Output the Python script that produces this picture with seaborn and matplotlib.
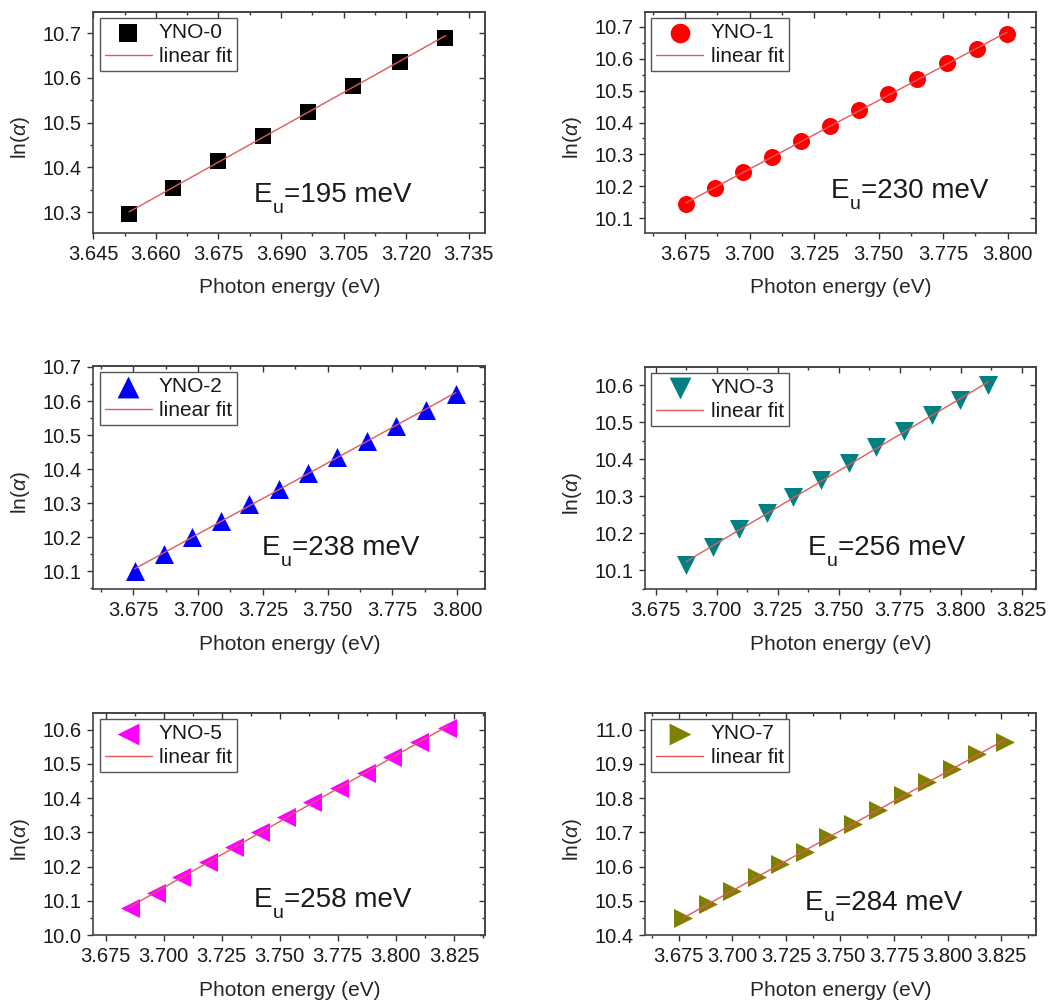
import matplotlib
matplotlib.use("Agg")
import matplotlib.pyplot as plt
import seaborn as sns
from matplotlib.ticker import MultipleLocator, AutoMinorLocator

# photon energy (eV) and ln(alpha)
yno0_E = [3.6536, 3.6641, 3.6749, 3.6857, 3.6965, 3.7073, 3.7184, 3.7294]
yno0_ln = [10.296, 10.354, 10.414, 10.470, 10.524, 10.582, 10.636, 10.690]

yno1_E = [3.6754, 3.6866, 3.6976, 3.7088, 3.7198, 3.7311, 3.7424, 3.7536,
          3.7649, 3.7765, 3.7881, 3.7997]
yno1_ln = [10.145, 10.194, 10.244, 10.293, 10.342, 10.390, 10.439, 10.488,
           10.536, 10.585, 10.630, 10.677]

yno2_E = [3.6756, 3.6868, 3.6978, 3.7087, 3.7197, 3.7311, 3.7424, 3.7536,
          3.7652, 3.7765, 3.7881, 3.7996]
yno2_ln = [10.100, 10.152, 10.200, 10.249, 10.298, 10.343, 10.389, 10.435,
           10.482, 10.528, 10.575, 10.620]

yno3_E = [3.6873, 3.6984, 3.7093, 3.7205, 3.7314, 3.7426, 3.7540, 3.7652,
          3.7768, 3.7881, 3.7997, 3.8113]
yno3_ln = [10.115, 10.163, 10.211, 10.256, 10.299, 10.344, 10.389, 10.432,
           10.477, 10.519, 10.560, 10.600]

yno5_E = [3.6854, 3.6969, 3.7076, 3.7191, 3.7305, 3.7413, 3.7527, 3.7641,
          3.7756, 3.7871, 3.7985, 3.8100, 3.8221]
yno5_ln = [10.078, 10.122, 10.170, 10.214, 10.258, 10.301, 10.345, 10.389,
           10.431, 10.473, 10.520, 10.564, 10.606]

yno7_E = [3.6772, 3.6888, 3.6997, 3.7113, 3.7221, 3.7337, 3.7446, 3.7562,
          3.7678, 3.7794, 3.7903, 3.8019, 3.8135, 3.8266]
yno7_ln = [10.449, 10.492, 10.528, 10.570, 10.607, 10.643, 10.687, 10.726,
           10.765, 10.808, 10.847, 10.886, 10.930, 10.964]

samples = ["YNO-0", "YNO-1", "YNO-2", "YNO-3", "YNO-5", "YNO-7"]
urbach_meV = [195, 230, 238, 256, 258, 284]

sns.set_style("ticks")
plt.rcParams["font.family"] = ["Liberation Sans", "DejaVu Sans"]
plt.rcParams["mathtext.fontset"] = "custom"
plt.rcParams["mathtext.rm"] = "Liberation Sans"
plt.rcParams["mathtext.it"] = "Liberation Sans:italic"
plt.rcParams["text.color"] = "#1a1a1a"
plt.rcParams["xtick.color"] = "#333333"
plt.rcParams["ytick.color"] = "#333333"
plt.rcParams["xtick.labelcolor"] = "#1a1a1a"
plt.rcParams["ytick.labelcolor"] = "#1a1a1a"

fig = plt.figure(figsize=(10.6, 10.01), dpi=100)

panels = [
    dict(x=yno0_E, y=yno0_ln, rect=(0.088, 0.7672, 0.370, 0.2208), marker="s", s=121, color="black",
         xlim=(3.645, 3.739), xstep=0.015, ylim=(10.253, 10.747), ystep=0.1, txt=(0.41, 0.14)),
    dict(x=yno1_E, y=yno1_ln, rect=(0.6085, 0.7672, 0.369, 0.2208), marker="o", s=150, color="#ff0000",
         xlim=(3.6595, 3.811), xstep=0.025, ylim=(10.054, 10.746), ystep=0.1, txt=(0.474, 0.158)),
    dict(x=yno2_E, y=yno2_ln, rect=(0.088, 0.4116, 0.370, 0.2228), marker="^", s=187, color="#0000ff",
         xlim=(3.6595, 3.811), xstep=0.025, ylim=(10.048, 10.703), ystep=0.1, txt=(0.43, 0.152)),
    dict(x=yno3_E, y=yno3_ln, rect=(0.6085, 0.4116, 0.369, 0.2218), marker="v", s=187, color="#008080",
         xlim=(3.6706, 3.8309), xstep=0.025, ylim=(10.050, 10.649), ystep=0.1, txt=(0.417, 0.153)),
    dict(x=yno5_E, y=yno5_ln, rect=(0.088, 0.0659, 0.370, 0.2218), marker="<", s=187, color="#ff00ff",
         xlim=(3.6697, 3.8386), xstep=0.025, ylim=(10.0, 10.649), ystep=0.1, txt=(0.41, 0.126)),
    dict(x=yno7_E, y=yno7_ln, rect=(0.6085, 0.0659, 0.369, 0.2218), marker=">", s=187, color="#808000",
         xlim=(3.6594, 3.8411), xstep=0.025, ylim=(10.4, 11.049), ystep=0.1, txt=(0.408, 0.113)),
]

for p, name, eu in zip(panels, samples, urbach_meV):
    ax = fig.add_axes(p["rect"])
    sns.scatterplot(x=p["x"], y=p["y"], ax=ax, marker=p["marker"], s=p["s"],
                    color=p["color"], edgecolor=p["color"], linewidth=0,
                    label=name, zorder=3)
    sns.regplot(x=p["x"], y=p["y"], ax=ax, scatter=False, ci=None, truncate=True,
                label="linear fit", line_kws=dict(color="#e05a5a", lw=1, zorder=4))

    ax.set_xlim(p["xlim"])
    ax.set_ylim(p["ylim"])
    ax.xaxis.set_major_locator(MultipleLocator(p["xstep"]))
    ax.yaxis.set_major_locator(MultipleLocator(p["ystep"]))
    ax.xaxis.set_major_formatter(matplotlib.ticker.FormatStrFormatter("%.3f"))
    ax.yaxis.set_major_formatter(matplotlib.ticker.FormatStrFormatter("%.1f"))
    ax.xaxis.set_minor_locator(AutoMinorLocator(2))
    ax.yaxis.set_minor_locator(AutoMinorLocator(2))
    ax.tick_params(which="both", direction="out", width=1, labelsize=14.5, pad=4)
    ax.tick_params(which="major", length=4.5)
    ax.tick_params(which="minor", length=2.5)
    for sp in ax.spines.values():
        sp.set_color("#444444")
        sp.set_linewidth(1.2)

    # mirrored inward ticks on top and right
    top = ax.secondary_xaxis("top")
    top.xaxis.set_major_locator(MultipleLocator(p["xstep"]))
    top.xaxis.set_minor_locator(AutoMinorLocator(2))
    top.tick_params(which="both", direction="in", labeltop=False, width=1, color="#333333")
    top.tick_params(which="major", length=4.5)
    top.tick_params(which="minor", length=2.5)
    right = ax.secondary_yaxis("right")
    right.yaxis.set_major_locator(MultipleLocator(p["ystep"]))
    right.yaxis.set_minor_locator(AutoMinorLocator(2))
    right.tick_params(which="both", direction="in", labelright=False, width=1, color="#333333")
    right.tick_params(which="major", length=4.5)
    right.tick_params(which="minor", length=2.5)
    for sec in (top, right):
        for sp in sec.spines.values():
            sp.set_color("#444444")
            sp.set_linewidth(1.2)

    ax.set_xlabel("Photon energy (eV)", fontsize=15)
    ax.set_ylabel(r"ln($\alpha$)", fontsize=15)
    ax.xaxis.set_label_coords(0.5, -0.205)
    ax.yaxis.set_label_coords(-0.157, 0.43)

    # E_u label: deep subscript like the original
    t_e = ax.text(p["txt"][0], p["txt"][1], "E", transform=ax.transAxes,
                  fontsize=20, ha="left", va="baseline")
    t_u = ax.annotate("u", xy=(1, 0), xycoords=t_e, xytext=(0.3, -3.5),
                      textcoords="offset points", fontsize=14, ha="left", va="baseline")
    ax.annotate("=%d meV" % eu, xy=(1, 0), xycoords=(t_u, t_e), xytext=(0.3, 0),
                textcoords="offset points", fontsize=20, ha="left", va="bottom")

    handles, labels = ax.get_legend_handles_labels()
    leg = ax.legend(handles, labels, loc="upper left", fontsize=15, fancybox=False,
                    frameon=True, framealpha=1, edgecolor="#555555",
                    borderpad=0.25, labelspacing=0.22, handlelength=2.25,
                    handletextpad=0.35, borderaxespad=0.3, markerscale=1.15)
    leg.get_frame().set_linewidth(1.0)

fig.savefig("out.png", dpi=100)
